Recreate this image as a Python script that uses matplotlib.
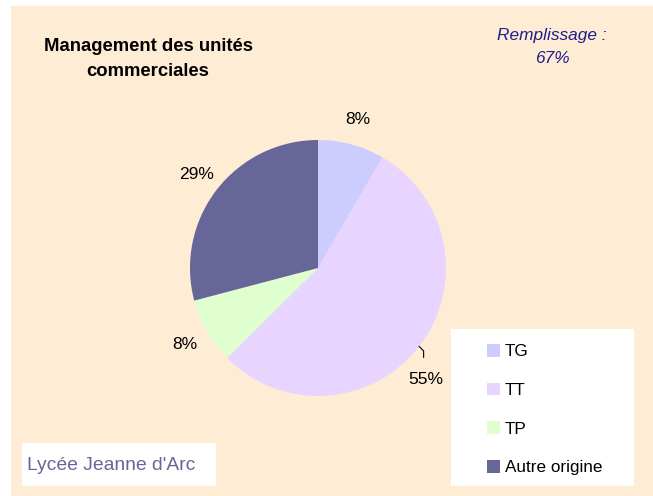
import numpy as np
import matplotlib
matplotlib.use('Agg')
import matplotlib.pyplot as plt
from matplotlib.patches import Rectangle, Patch

# data
categories = ['TG', 'TT', 'TP', 'Autre origine']
shares = [8.4, 54.2, 8.3, 29.1]
pct_labels = ['8%', '55%', '8%', '29%']
colors = ['#CCCCFF', '#E8D5FF', '#E0FFD0', '#666699']
title = 'Management des unités\ncommerciales'
fill_text = 'Remplissage :\n67%'
school = "Lycée Jeanne d'Arc"

plt.rcParams['font.family'] = ['Liberation Sans', 'DejaVu Sans']

W, H = 653, 496
fig = plt.figure(figsize=(W / 100, H / 100), dpi=100, facecolor='white')


def fx(px):
    return px / W


def fy(py):
    return 1 - py / H


# cream background
fig.patches.append(Rectangle((fx(11), 0), 1 - fx(11), fy(6), transform=fig.transFigure,
                             facecolor='#FFECD4', edgecolor='none', zorder=-1))

# pie axes, center (318, 268), radius 128 px
r_px = 128
lim = 1.3
aw = 2 * lim * r_px
ax = fig.add_axes([fx(318 - aw / 2), fy(268 + aw / 2), aw / W, aw / H])

wedges, texts = ax.pie(shares, labels=pct_labels, colors=colors, startangle=90,
                       counterclock=False, labeldistance=1.2, radius=1.0,
                       wedgeprops=dict(linewidth=0),
                       textprops=dict(fontsize=12.5, color='black'))
for t in texts:
    t.set_ha('center')
ax.set_xlim(-lim, lim)
ax.set_ylim(-lim, lim)
ax.set_aspect('equal')
ax.axis('off')

# TT label pushed down by the legend, with leader line
w = wedges[1]
a = np.deg2rad((w.theta1 + w.theta2) / 2)
ang = np.deg2rad(-46)
texts[1].set_position((1.21 * np.cos(ang), 1.21 * np.sin(ang)))
p0 = np.array([np.cos(a), np.sin(a)])
p1 = p0 + np.array([0.035, -0.035])
p2 = p1 + np.array([0.0, -0.05])
ax.plot([p0[0], p1[0], p2[0]], [p0[1], p1[1], p2[1]], color='black', lw=0.8)

# titles
fig.text(fx(148), fy(59), title, ha='center', va='center', fontsize=13.3,
         fontweight='bold', linespacing=1.55)
fig.text(fx(552), fy(47), fill_text, ha='center', va='center', fontsize=12.4,
         style='italic', color='#1E1E8C', linespacing=1.7)

# school box
fig.patches.append(Rectangle((fx(22), fy(486)), fx(216) - fx(22), fy(443) - fy(486),
                             transform=fig.transFigure, facecolor='white',
                             edgecolor='none', zorder=1))
fig.text(fx(27), fy(465), school, ha='left', va='center', fontsize=13.9, color='#666699')

# legend box
fig.patches.append(Rectangle((fx(451), fy(486)), fx(634) - fx(451), fy(329) - fy(486),
                             transform=fig.transFigure, facecolor='white',
                             edgecolor='none', zorder=1))
handles = [Patch(facecolor=c, edgecolor='none') for c in colors]
fig.legend(handles, categories, loc='upper left', bbox_to_anchor=(fx(487), fy(344)),
           frameon=False, fontsize=12.3, handlelength=0.76, handleheight=0.76,
           handletextpad=0.3, labelspacing=1.37, borderpad=0, borderaxespad=0)

fig.savefig('out.png', dpi=100, facecolor='white')
